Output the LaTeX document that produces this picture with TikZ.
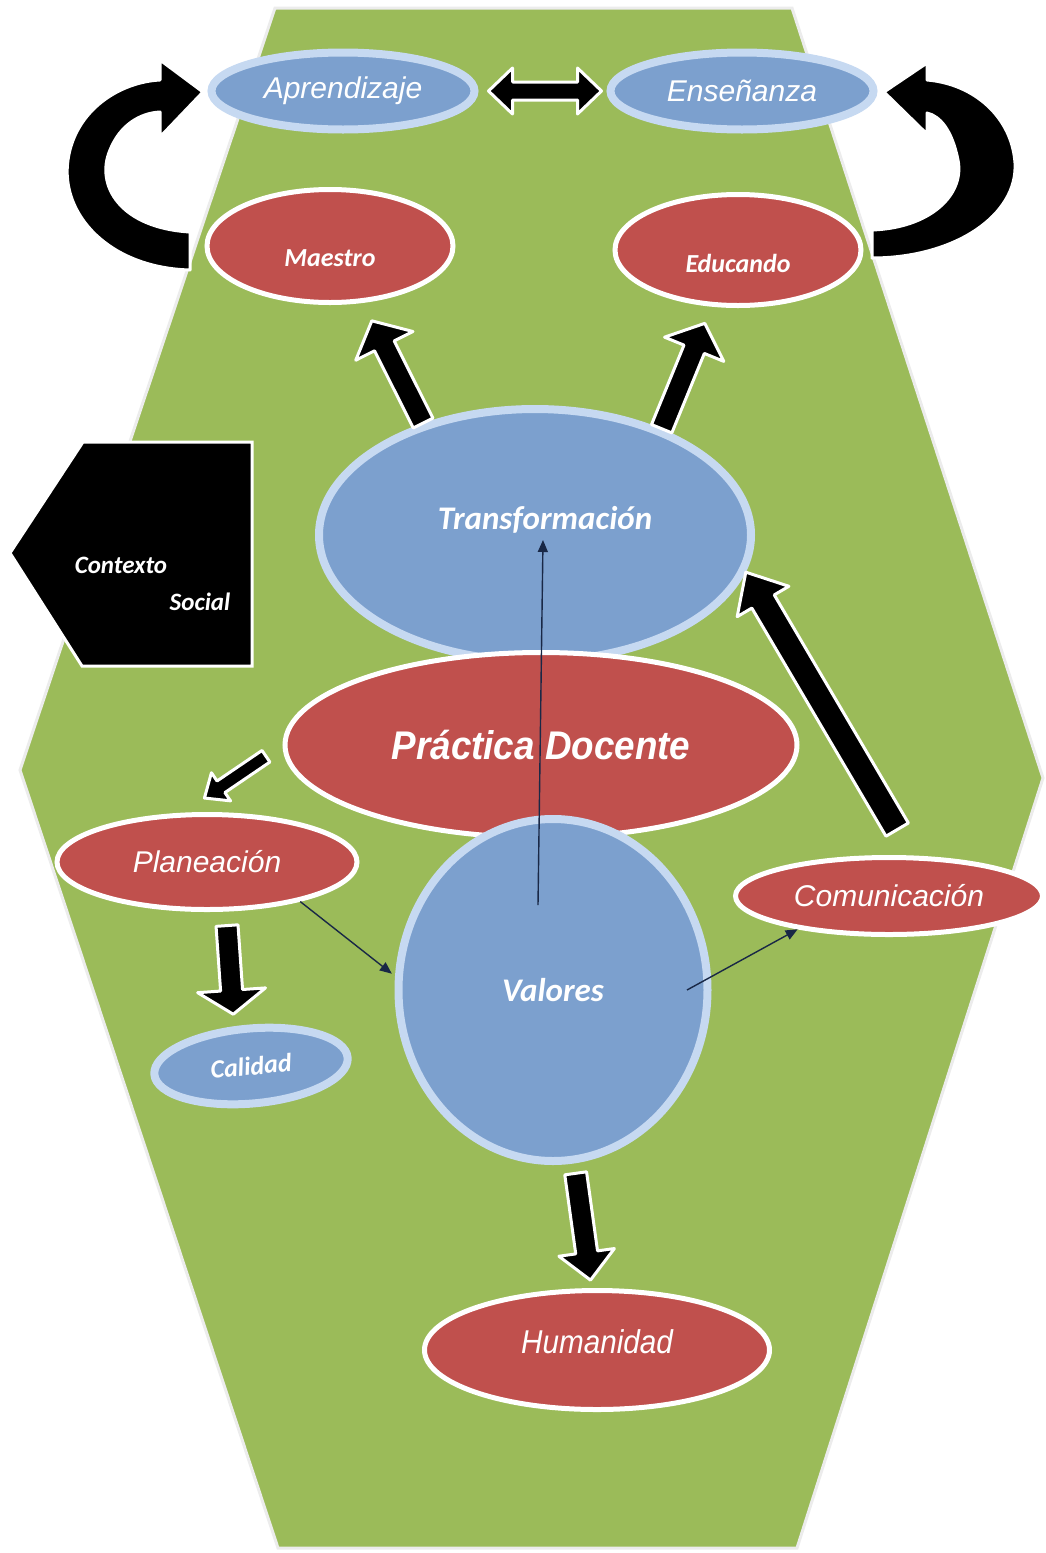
\documentclass[tikz,border=0pt]{standalone}
\usepackage{fontspec}
\usepackage{graphicx}
\usepackage{tikz}
\usetikzlibrary{shapes.geometric, arrows.meta, calc}

\newfontfamily\arialf{Liberation Sans}
\newfontfamily\calibf{Carlito}

\definecolor{hexgreen}{RGB}{155,187,89}
\definecolor{ellblue}{RGB}{124,160,206}
\definecolor{ellrim}{RGB}{198,217,241}
\definecolor{ellred}{RGB}{192,80,77}
\definecolor{arrowdark}{RGB}{25,40,70}

\tikzset{
	blueell/.style={ellipse, fill=ellblue, draw=ellrim, line width=4pt, inner sep=0pt, text=white},
	redell/.style={ellipse, fill=ellred, draw=white, line width=2.5pt, inner sep=0pt, text=white},
	blockarrow/.style={fill=black, draw=white, line width=1.5pt, line join=round},
	thinarrow/.style={draw=arrowdark, line width=0.7pt, -{Triangle[length=6pt,width=5pt]}},
	arialtext/.style={font=\arialf\itshape\fontsize{#1}{#1}\selectfont},
	arialtext/.default=15,
	calibtext/.style={font=\calibf\bfseries\itshape\fontsize{#1}{#1}\selectfont},
	calibtext/.default=13,
	ctxtext/.style={text=white, font=\calibf\bfseries\itshape\fontsize{12.5}{12.5}\selectfont}
}

% from, to, gap at start, gap at end, half shaft, half head, head length
\newcommand\blockarrow[7]{%
	\coordinate (ba-a) at (#1);
	\coordinate (ba-b) at (#2);
	\coordinate (ba-s) at ($(ba-a)!#3!(ba-b)$);
	\coordinate (ba-e) at ($(ba-b)!#4!(ba-a)$);
	\coordinate (ba-h) at ($(ba-e)!#7!(ba-s)$);
	\filldraw[blockarrow] ($(ba-s)!#5!90:(ba-e)$) -- ($(ba-h)!#5!-90:(ba-s)$) -- ($(ba-h)!#6!-90:(ba-s)$) -- (ba-e) -- ($(ba-h)!#6!90:(ba-s)$) -- ($(ba-h)!#5!90:(ba-s)$) -- ($(ba-s)!#5!-90:(ba-e)$) -- cycle;
}

\newcommand\dblarrow[7]{%
	\coordinate (da-a) at (#1);
	\coordinate (da-b) at (#2);
	\coordinate (da-s) at ($(da-a)!#3!(da-b)$);
	\coordinate (da-e) at ($(da-b)!#4!(da-a)$);
	\coordinate (da-h) at ($(da-s)!#7!(da-e)$);
	\coordinate (da-k) at ($(da-e)!#7!(da-s)$);
	\filldraw[blockarrow] (da-s) -- ($(da-h)!#6!90:(da-e)$) -- ($(da-h)!#5!90:(da-e)$) -- ($(da-k)!#5!-90:(da-s)$) -- ($(da-k)!#6!-90:(da-s)$) -- (da-e) -- ($(da-k)!#6!90:(da-s)$) -- ($(da-k)!#5!90:(da-s)$) -- ($(da-h)!#5!-90:(da-e)$) -- ($(da-h)!#6!-90:(da-e)$) -- cycle;
}

\begin{document}
\begin{tikzpicture}[x=0.5pt, y=-0.5pt]
	\useasboundingbox (0,0) rectangle (1045,1553);
	\filldraw[fill=hexgreen, draw=white!85!gray, line width=1.5pt] (275,8) -- (792,8) -- (1043,778) -- (797,1548) -- (278,1548) -- (20,770) -- cycle;

	\filldraw[blockarrow] (190,232) .. controls (120,228) and (95,185) .. (110,150) .. controls (120,125) and (140,113) .. (160,112) -- (160,137) -- (203,92) -- (160,60) -- (160,80) .. controls (120,82) and (75,110) .. (68,160) .. controls (60,215) and (110,268) .. (190,270) -- cycle;
	\filldraw[blockarrow] (872,230) .. controls (930,228) and (965,195) .. (958,160) .. controls (952,130) and (940,116) .. (927,113) -- (927,134) -- (884,92) -- (927,63) -- (927,80) .. controls (975,84) and (1012,118) .. (1015,163) .. controls (1018,215) and (955,258) .. (872,258) -- cycle;

	\filldraw[fill=black, draw=white, line width=1.5pt] (83,442) -- (252,442) -- (252,666) -- (82,666) -- (10,553) -- cycle;
	\node[ctxtext] (ctxa) at (121,565) {Contexto};
	\node[ctxtext] (ctxb) at (200,602) {Social};

	\node[blueell, minimum width=131.5pt, minimum height=38.5pt, arialtext] (aprend) at (343,91) {Aprendizaje};
	\node[blueell, minimum width=131.5pt, minimum height=38.5pt, arialtext] (ensen) at (742,91) {Enseñanza};
	\node[redell, minimum width=123pt, minimum height=56.5pt, label={[name=maestrolab, calibtext, text=white, yshift=-6pt]center:Maestro}] (maestro) at (330,246) {};
	\node[redell, minimum width=123pt, minimum height=55.5pt, label={[name=educlab, calibtext, text=white, yshift=-6.5pt]center:Educando}] (educ) at (738,250) {};
	\node[blueell, minimum width=216pt, minimum height=126pt, label={[name=translab, calibtext=16.5, text=white, xshift=5pt, yshift=7.5pt]center:Transformación}] (trans) at (535,535) {};
	\node[redell, minimum width=256pt, minimum height=92.5pt, font=\arialf\bfseries\itshape\fontsize{20}{20}\selectfont] (prac) at (541,745) {\scalebox{0.92}[1]{Práctica Docente}};
	\node[blueell, minimum width=154.5pt, minimum height=171pt, calibtext=16.5] (val) at (553,990) {Valores};
	\node[redell, minimum width=150pt, minimum height=47.5pt, arialtext] (plan) at (207,862) {Planeación};
	\node[blueell, minimum width=97pt, minimum height=37.5pt, rotate=5, calibtext] (calid) at (251,1066) {Calidad};
	\node[redell, minimum width=153.5pt, minimum height=38.5pt, arialtext] (comm) at (889,896) {Comunicación};
	\node[redell, minimum width=172.5pt, minimum height=59.5pt, label={[name=humlab, arialtext=16.5, text=white, yshift=4pt]center:\scalebox{0.9}[1]{Humanidad}}] (hum) at (597,1350) {};

	\dblarrow{aprend.east}{ensen.west}{5pt}{2.5pt}{4.5pt}{11.5pt}{12pt}
	\blockarrow{trans.135}{maestro.-60}{0pt}{10pt}{5.5pt}{16pt}{14pt}
	\blockarrow{trans.40}{educ.-115}{0pt}{9pt}{5.5pt}{16pt}{14pt}
	\blockarrow{comm.60}{trans.-10}{15pt}{0pt}{6.5pt}{15pt}{17pt}
	\blockarrow{prac.180}{plan.116}{10pt}{13pt}{3.5pt}{8.5pt}{10pt}
	\blockarrow{plan.-69}{calid.108}{7pt}{6pt}{5.5pt}{17pt}{12pt}
	\blockarrow{val.-83}{hum.95}{5pt}{4pt}{5.5pt}{14pt}{14pt}

	\coordinate (valtop) at ($(val.center)+(-15,-85)$);
	\coordinate (transin) at ($(trans.center)+(8,5)$);
	\coordinate (valright) at ($(val.center)+(134,0)$);
	\draw[thinarrow] (valtop) -- (transin);
	\draw[thinarrow, shorten >=2pt] (plan.-23) -- (val.175);
	\draw[thinarrow] (valright) -- (comm.200);
\end{tikzpicture}
\end{document}
